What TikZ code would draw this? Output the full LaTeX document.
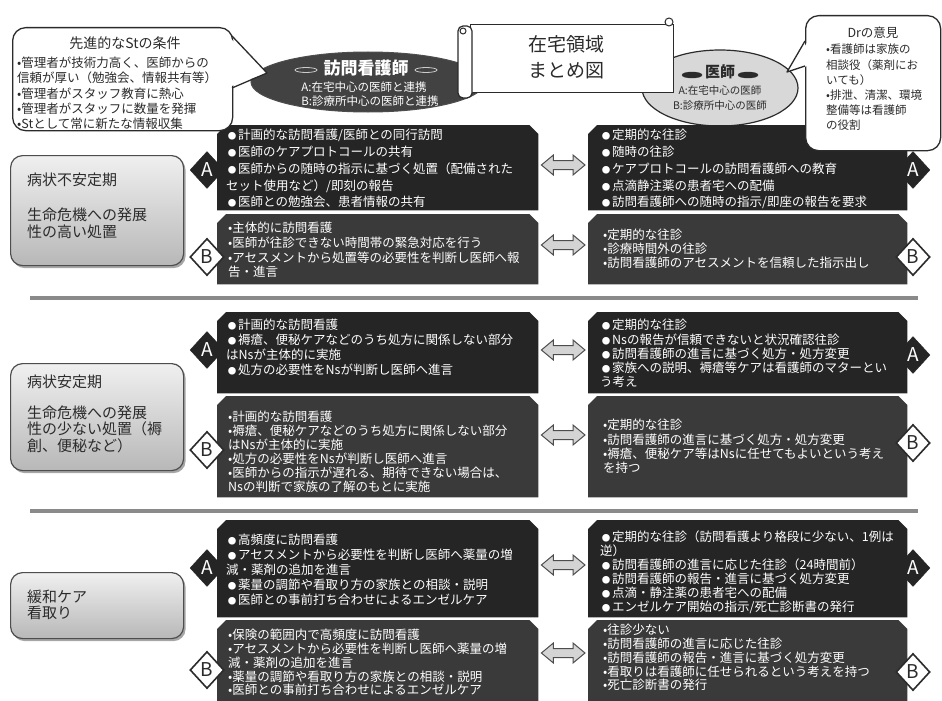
\documentclass[tikz,border=0pt]{standalone}
\usepackage{fontspec}
\setmainfont{Noto Sans CJK JP}
\usetikzlibrary{shapes.geometric,calc,shadows}
\definecolor{boxA}{HTML}{252525}
\definecolor{boxB}{HTML}{3A3A3A}
\definecolor{edgegray}{HTML}{4D4D4D}
\definecolor{arrowgray}{HTML}{D4D4D4}
\definecolor{sepgray}{HTML}{8A8A8A}
\definecolor{darktext}{HTML}{2B2B2B}
\definecolor{ellipsedark}{HTML}{424242}
\definecolor{ellipselight}{HTML}{D8D8D8}

\newcommand{\bl}{\makebox[12pt][c]{\fontsize{8.5}{8.5}\selectfont ●}}

\newcommand{\snipbox}[2]{\fill[#2] ([yshift=-9pt]#1.north west) -- ([xshift=9pt]#1.north west) -- ([xshift=-9pt]#1.north east) -- ([yshift=-9pt]#1.north east) -- (#1.south east) -- (#1.south west) -- cycle;}

\newcommand{\pairarrow}[3]{%
 \path[arrowshape] let \p1=(#1.east), \p2=(#2.west) in
  ({\x1+3pt},{-#3pt}) -- ({\x1+15pt},{-#3pt+10pt}) -- ({\x1+15pt},{-#3pt+4.5pt}) -- ({\x2-15pt},{-#3pt+4.5pt}) -- ({\x2-15pt},{-#3pt+10pt}) -- ({\x2-3pt},{-#3pt}) -- ({\x2-15pt},{-#3pt-10pt}) -- ({\x2-15pt},{-#3pt-4.5pt}) -- ({\x1+15pt},{-#3pt-4.5pt}) -- ({\x1+15pt},{-#3pt-10pt}) -- cycle;}

\tikzset{
 frame/.style={rectangle, inner sep=0pt, anchor=north west},
 wtext/.style={anchor=north west, inner sep=0pt, align=left, text=white, font=\fontsize{12.5}{#1}\selectfont},
 arrowshape/.style={fill=arrowgray, draw=edgegray, line width=1pt, line join=miter},
 sepline/.style={draw=sepgray, line width=3.5pt},
 diamA/.style={diamond, fill=boxA, draw=boxA, text=white, minimum width=34pt, minimum height=37pt, inner sep=0pt, font=\fontsize{19}{19}\selectfont},
 diamB/.style={diamond, fill=white, draw=darktext, line width=1.6pt, text=darktext, minimum width=34pt, minimum height=37pt, inner sep=0pt, font=\fontsize{19}{19}\selectfont},
 graybox/.style={rectangle, rounded corners=12pt, draw=edgegray, line width=1.2pt, top color=white!94!black, bottom color=white!72!black, anchor=north west, inner sep=0pt, drop shadow={shadow xshift=2pt, shadow yshift=-2.5pt, fill=black, opacity=0.35}},
 gtext/.style={anchor=north west, inner sep=0pt, align=left, text=darktext, font=\fontsize{15}{#1}\selectfont},
 callbox/.style={rectangle, rounded corners=13pt, draw=darktext, line width=1.3pt, fill=white, anchor=north west, inner sep=0pt},
 tailline/.style={draw=darktext, line width=1.3pt, line join=round},
 ctext/.style={anchor=north west, inner sep=0pt, align=left, text=darktext, font=\fontsize{#1}{15.2}\selectfont},
 lenslight/.style={ellipse, draw=white!80!black, fill=ellipsedark, line width=0.8pt, minimum width=22pt, minimum height=5pt, inner sep=0pt},
 lensdark/.style={ellipse, draw=darktext, fill=darktext, minimum width=20pt, minimum height=6pt, inner sep=0pt},
 etext/.style={inner sep=0pt, font=\fontsize{#1}{#1}\selectfont},
 btext/.style={inner sep=0pt, font=\fontsize{#1}{#1}\selectfont\bfseries},
}

\begin{document}
\begin{tikzpicture}[x=1pt,y=-1pt]
\useasboundingbox[fill=white] (0,0) rectangle (942,701);

% separators
\coordinate (s1a) at (30,298); \coordinate (s1b) at (918,298);
\coordinate (s2a) at (30,511); \coordinate (s2b) at (918,511);
\draw[sepline] (s1a) -- (s1b);
\draw[sepline] (s2a) -- (s2b);

% left (nurse) ellipse
\node[ellipse, fill=ellipsedark, draw=edgegray, line width=1pt, minimum width=234pt, minimum height=60pt, inner sep=0pt] (NS) at (368,82) {};
\node[btext=17, text=white] (NStitle) at (366,68) {訪問看護師};
\node[lenslight] (NSl1) at (306,70) {};
\node[lenslight] (NSl2) at (426,70) {};
\node[etext=11.5, text=white] (NSa) at (364,87) {A:在宅中心の医師と連携};
\node[etext=11.5, text=white] (NSb) at (370,101) {B:診療所中心の医師と連携};

% right (doctor) ellipse
\node[ellipse, fill=ellipselight, draw=darktext, line width=1.2pt, minimum width=156pt, minimum height=76pt, inner sep=0pt] (DR) at (720,88) {};
\node[btext=15, text=darktext] (DRtitle) at (720,72) {医師};
\node[lensdark] (DRl1) at (692,75) {};
\node[lensdark] (DRl2) at (748,75) {};
\node[etext=10.5, text=darktext] (DRa) at (720,90) {A:在宅中心の医師};
\node[etext=10.5, text=darktext] (DRb) at (720,106) {B:診療所中心の医師};

% scroll title
\node[rectangle, draw=darktext, fill=white, line width=1.2pt, minimum width=203pt, minimum height=68pt, anchor=north west] (TT) at (470,24) {};
\draw[draw=darktext, fill=white, line width=1.2pt, rounded corners=5pt] (458,26) rectangle (472,98);
\draw[draw=darktext, line width=1pt] (463,31) circle (3pt);
\draw[draw=darktext, fill=white, line width=1pt] (669,22) circle (4pt);
\node[align=center, text=darktext, font=\fontsize{19}{26}\selectfont, inner sep=0pt] (TTtext) at (566,57) {在宅領域\\まとめ図};

% frames of the dark boxes
\node[frame, minimum width=321pt, minimum height=85pt] (L1A) at (217,125) {};
\node[frame, minimum width=321pt, minimum height=70pt] (L1B) at (217,214) {};
\node[frame, minimum width=319pt, minimum height=85pt] (R1A) at (588,125) {};
\node[frame, minimum width=319pt, minimum height=70pt] (R1B) at (588,214) {};
\node[frame, minimum width=321pt, minimum height=81pt] (L2A) at (217,312) {};
\node[frame, minimum width=321pt, minimum height=101pt] (L2B) at (217,396) {};
\node[frame, minimum width=319pt, minimum height=81pt] (R2A) at (588,312) {};
\node[frame, minimum width=319pt, minimum height=101pt] (R2B) at (588,396) {};
\node[frame, minimum width=321pt, minimum height=97pt] (L3A) at (217,520) {};
\node[frame, minimum width=321pt, minimum height=81pt] (L3B) at (217,620) {};
\node[frame, minimum width=319pt, minimum height=97pt] (R3A) at (588,520) {};
\node[frame, minimum width=319pt, minimum height=81pt] (R3B) at (588,620) {};

\snipbox{L1A}{boxA} \snipbox{L1B}{boxB} \snipbox{R1A}{boxA} \snipbox{R1B}{boxB}
\snipbox{L2A}{boxA} \snipbox{L2B}{boxB} \snipbox{R2A}{boxA} \snipbox{R2B}{boxB}
\snipbox{L3A}{boxA} \snipbox{L3B}{boxB} \snipbox{R3A}{boxA} \snipbox{R3B}{boxB}

% texts of the dark boxes
\node[wtext=16.8] (L1At) at (226,129) {\bl 計画的な訪問看護/医師との同行訪問\\\bl 医師のケアプロトコールの共有\\\bl 医師からの随時の指示に基づく処置（配備された\\セット使用など）/即刻の報告\\\bl 医師との勉強会、患者情報の共有};
\node[wtext=14.7] (L1Bt) at (228,222) {•主体的に訪問看護\\•医師が往診できない時間帯の緊急対応を行う\\•アセスメントから処置等の必要性を判断し医師へ報\\告・進言};
\node[wtext=16.8] (R1At) at (600,129) {\bl 定期的な往診\\\bl 随時の往診\\\bl ケアプロトコールの訪問看護師への教育\\\bl 点滴静注薬の患者宅への配備\\\bl 訪問看護師への随時の指示/即座の報告を要求};
\node[wtext=13.8] (R1Bt) at (603,229) {•定期的な往診\\•診療時間外の往診\\•訪問看護師のアセスメントを信頼した指示出し};

\node[wtext=15] (L2At) at (226,319) {\bl 計画的な訪問看護\\\bl 褥瘡、便秘ケアなどのうち処方に関係しない部分\\はNsが主体的に実施\\\bl 処方の必要性をNsが判断し医師へ進言};
\node[wtext=14] (L2Bt) at (228,411) {•計画的な訪問看護\\•褥瘡、便秘ケアなどのうち処方に関係しない部分\\はNsが主体的に実施\\•処方の必要性をNsが判断し医師へ進言\\•医師からの指示が遅れる、期待できない場合は、\\Nsの判断で家族の了解のもとに実施};
\node[wtext=14.3] (R2At) at (600,319) {\bl 定期的な往診\\\bl Nsの報告が信頼できないと状況確認往診\\\bl 訪問看護師の進言に基づく処方・処方変更\\\bl 家族への説明、褥瘡等ケアは看護師のマターとい\\う考え};
\node[wtext=14.3] (R2Bt) at (603,419) {•定期的な往診\\•訪問看護師の進言に基づく処方・処方変更\\•褥瘡、便秘ケア等はNsに任せてもよいという考え\\を持つ};

\node[wtext=15] (L3At) at (226,534) {\bl 高頻度に訪問看護\\\bl アセスメントから必要性を判断し医師へ薬量の増\\減・薬剤の追加を進言\\\bl 薬量の調節や看取り方の家族との相談・説明\\\bl 医師との事前打ち合わせによるエンゼルケア};
\node[wtext=13.8] (L3Bt) at (228,629) {•保険の範囲内で高頻度に訪問看護\\•アセスメントから必要性を判断し医師へ薬量の増\\減・薬剤の追加を進言\\•薬量の調節や看取り方の家族との相談・説明\\•医師との事前打ち合わせによるエンゼルケア};
\node[wtext=14] (R3At) at (600,531) {\bl 定期的な往診（訪問看護より格段に少ない、1例は\\逆）\\\bl 訪問看護師の進言に応じた往診（24時間前）\\\bl 訪問看護師の報告・進言に基づく処方変更\\\bl 点滴・静注薬の患者宅への配備\\\bl エンゼルケア開始の指示/死亡診断書の発行};
\node[wtext=13.8] (R3Bt) at (603,624) {•往診少ない\\•訪問看護師の進言に応じた往診\\•訪問看護師の報告・進言に基づく処方変更\\•看取りは看護師に任せられるという考えを持つ\\•死亡診断書の発行};

% double arrows between the paired boxes
\pairarrow{L1A}{R1A}{165}
\pairarrow{L1B}{R1B}{245}
\pairarrow{L2A}{R2A}{350}
\pairarrow{L2B}{R2B}{435}
\pairarrow{L3A}{R3A}{565}
\pairarrow{L3B}{R3B}{653}

% diamonds
\node[diamA] (dL1A) at (207,170) {A};
\node[diamB] (dL1B) at (207,257) {B};
\node[diamA] (dR1A) at (913,170) {A};
\node[diamB] (dR1B) at (913,257) {B};
\node[diamA] (dL2A) at (207,350) {A};
\node[diamB] (dL2B) at (207,450) {B};
\node[diamA] (dR2A) at (913,355) {A};
\node[diamB] (dR2B) at (913,443) {B};
\node[diamA] (dL3A) at (207,568) {A};
\node[diamB] (dL3B) at (207,670) {B};
\node[diamA] (dR3A) at (913,568) {A};
\node[diamB] (dR3B) at (913,672) {B};

% grey phase boxes
\node[graybox, minimum width=173pt, minimum height=110pt] (G1) at (10,155) {};
\node[gtext=17] (G1t) at (27,173) {病状不安定期\\[18pt]生命危機への発展\\性の高い処置};
\node[graybox, minimum width=173pt, minimum height=107pt] (G2) at (10,363) {};
\node[gtext=16.5] (G2t) at (27,375) {病状安定期\\[14pt]生命危機への発展\\性の少ない処置（褥\\創、便秘など）};
\node[graybox, minimum width=173pt, minimum height=66pt] (G3) at (10,572) {};
\node[gtext=16] (G3t) at (27,590) {緩和ケア\\看取り};

% left callout
\node[callbox, minimum width=220pt, minimum height=103pt] (LC) at (12,27) {};
\fill[white] (229,37) -- (267,73) -- (229,87) -- cycle;
\draw[tailline] (232,36) -- (267,73) -- (232,88);
\node[etext=14, text=darktext] (LCtitle) at (125,43) {先進的なStの条件};
\node[ctext=12.5] (LCt) at (17,57) {•管理者が技術力高く、医師からの\\信頼が厚い（勉強会、情報共有等）\\•管理者がスタッフ教育に熱心\\•管理者がスタッフに数量を発揮\\•Stとして常に新たな情報収集};

% right callout
\node[callbox, minimum width=135pt, minimum height=135pt] (RC) at (805,15) {};
\fill[white] (807.5,42) -- (787,72) -- (807.5,66) -- cycle;
\draw[tailline] (805,41) -- (787,72) -- (805,66);
\node[etext=12.5, text=darktext] (RCtitle) at (873,33) {Drの意見};
\node[ctext=11.5] (RCt) at (826,44) {•看護師は家族の\\相談役（薬剤にお\\いても）\\•排泄、清潔、環境\\整備等は看護師\\の役割};
\end{tikzpicture}
\end{document}
